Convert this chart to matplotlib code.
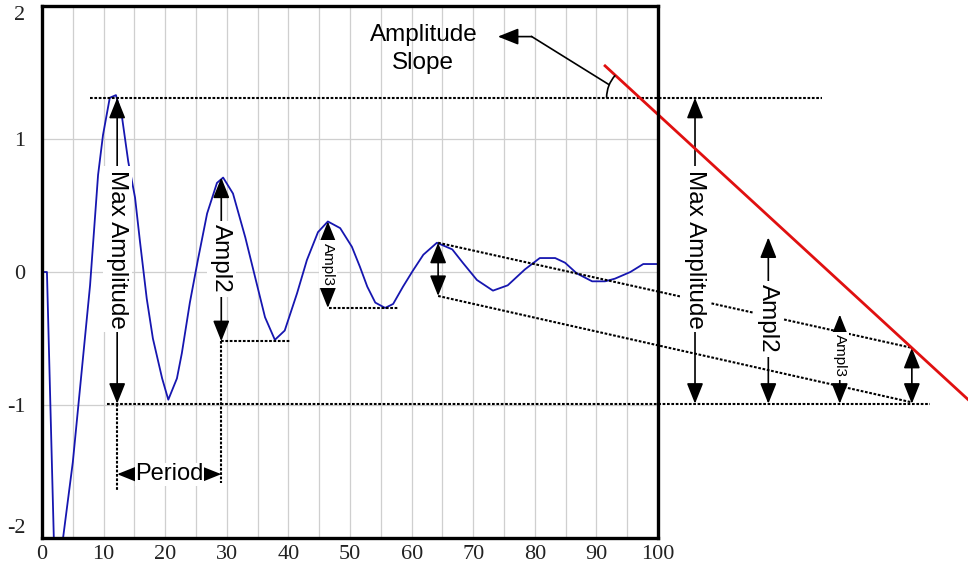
import numpy as np
import matplotlib.pyplot as plt
from matplotlib.patches import Arc

plt.rcParams['font.family'] = ['Liberation Sans', 'DejaVu Sans']
plt.rcParams['axes.unicode_minus'] = False

# --- damped oscillation ---
curve_x = [0, 0.8, 2.0, 3.0, 5.0, 7.8, 9.1, 9.9, 11.0, 12.0,
           13.0, 14.0, 15.1, 15.9, 17.0, 18.0, 19.5, 20.5, 21.9, 22.7,
           24.0, 25.3, 26.8, 28.4, 29.4, 31.0, 33.0, 34.6, 36.2, 37.8,
           39.4, 41.4, 43.0, 44.8, 46.4, 48.4, 50.3, 51.6, 52.8, 54.1,
           55.7, 57.0, 58.6, 60.2, 61.9, 64.1, 66.6, 68.3, 70.6, 73.2,
           75.6, 78.4, 80.8, 83.3, 84.9, 86.8, 89.3, 91.4, 93.0, 95.5,
           97.6, 100]
curve_y = [0, 0, -2.15, -2.15, -1.43, -0.1, 0.73, 1.03, 1.31, 1.33,
           1.16, 0.83, 0.56, 0.23, -0.2, -0.5, -0.8, -0.96, -0.8, -0.61,
           -0.23, 0.09, 0.44, 0.67, 0.71, 0.59, 0.26, -0.04, -0.34, -0.51,
           -0.44, -0.16, 0.09, 0.30, 0.38, 0.33, 0.19, 0.04, -0.11, -0.23,
           -0.27, -0.24, -0.11, 0.01, 0.13, 0.22, 0.17, 0.07, -0.06, -0.14,
           -0.10, 0.02, 0.105, 0.105, 0.07, -0.01, -0.07, -0.07, -0.05, 0.0,
           0.06, 0.06]

x_ticks = [0, 10, 20, 30, 40, 50, 60, 70, 80, 90, 100]
y_ticks = [-2, -1, 0, 1, 2]

# dotted guide lines (x0, x1, y0, y1)
guide_x0 = [7.8, 10.6, 12.2, 29.1, 29.1, 46.6, 64.3, 64.3]
guide_x1 = [126.6, 144.2, 12.2, 40.3, 29.1, 57.8, 141.2, 141.2]
guide_y0 = [1.31, -0.99, -0.99, -0.52, -0.52, -0.27, 0.22, -0.18]
guide_y1 = [1.31, -0.99, -1.65, -0.52, -1.59, -0.27, -0.57, -0.98]

# vertical dimension arrows
dim_x = [12.2, 29.1, 46.4, 64.3, 106.0, 117.9, 129.5, 141.2]
dim_top = [1.31, 0.71, 0.38, 0.22, 1.31, 0.26, -0.32, -0.57]
dim_bottom = [-0.99, -0.52, -0.27, -0.18, -0.99, -0.99, -0.99, -0.99]
dim_labels = ['Max Amplitude', 'Ampl2', 'Ampl3', '', 'Max Amplitude', 'Ampl2', 'Ampl3', '']
dim_label_y = [0.17, 0.10, 0.06, 0, 0.17, -0.35, -0.63, 0]
dim_label_size = [17.5, 17.5, 11, 0, 17.5, 17.5, 11, 0]

# period arrow
period_x = [12.2, 29.1]
period_y = -1.52

# amplitude slope
slope_x = [91.4, 152.0]
slope_y = [1.55, -1.03]
leader_x = [92.0, 79.5, 74.0]
leader_y = [1.41, 1.77, 1.77]
angle_center = (97.0, 1.31)

fig = plt.figure(figsize=(9.68, 5.72), dpi=100)
ax = fig.add_axes([0.0434, 0.0594, 0.6364, 0.9301])

ax.plot(curve_x, curve_y, color='#1616b0', lw=1.3, zorder=3, solid_joinstyle='round')

ax.set_xlim(0, 100)
ax.set_ylim(-2, 2)
ax.set_xticks(x_ticks)
ax.set_xticks(range(5, 100, 10), minor=True)
ax.set_yticks(y_ticks)
ax.set_axisbelow(True)
ax.grid(True, which='both', axis='x', color='#cfcfcf', lw=0.9)
ax.grid(True, which='major', axis='y', color='#cfcfcf', lw=0.9)
ax.tick_params(which='both', length=0, labelsize=16, colors='#222222')
ax.tick_params(axis='x', pad=5)
ax.tick_params(axis='y', pad=12)
for lbl in ax.get_xticklabels() + ax.get_yticklabels():
    lbl.set_fontfamily('Liberation Serif')
ylbls = ax.get_yticklabels()
ylbls[0].set_va('bottom')
ylbls[-1].set_va('top')
for sp in ax.spines.values():
    sp.set_linewidth(2.4)
    sp.set_color('black')
    sp.set_zorder(8)

dots = dict(color='black', lw=1.5, linestyle=(0, (1.3, 0.8)), clip_on=False, zorder=4)
for x0, x1, y0, y1 in zip(guide_x0, guide_x1, guide_y0, guide_y1):
    ax.plot([x0, x1], [y0, y1], **dots)

arrow = dict(arrowstyle='<|-|>,head_length=0.9,head_width=0.36', mutation_scale=14,
             lw=1.2, color='black', shrinkA=0, shrinkB=0)
box = dict(boxstyle='square,pad=0.15', fc='white', ec='none')

for x, yt, yb, lab, ly, fs in zip(dim_x, dim_top, dim_bottom, dim_labels, dim_label_y, dim_label_size):
    ax.annotate('', xy=(x, yt), xytext=(x, yb), arrowprops=arrow,
                annotation_clip=False, zorder=5)
    if lab:
        ax.text(x, ly, lab, rotation=270, ha='center', va='center', fontsize=fs,
                bbox=box, zorder=6, clip_on=False)

ax.annotate('', xy=(period_x[0], period_y), xytext=(period_x[1], period_y),
            arrowprops=arrow, zorder=5)
ax.text(sum(period_x) / 2, period_y, 'Period', ha='center', va='center',
        fontsize=17, bbox=dict(boxstyle='square,pad=0.02', fc='white', ec='none'), zorder=6)

# amplitude slope line, angle mark and callout
ax.plot(slope_x, slope_y, color='#e01010', lw=2.0, clip_on=False, zorder=5)

# arc of ~33 px radius; Arc wants angles in data space, so convert the screen angles
arc_w, arc_h = 10.7, 0.50
def data_angle(deg):
    t = np.deg2rad(deg)
    return np.rad2deg(np.arctan2(arc_h * np.sin(t), arc_w * np.cos(t)))
ax.add_patch(Arc(angle_center, arc_w, arc_h, theta1=data_angle(137.5), theta2=180,
                 color='black', lw=1.2, zorder=5))
ax.plot(leader_x[:2], leader_y[:2], color='black', lw=1.2, zorder=5)
ax.annotate('', xy=(leader_x[2], leader_y[2]), xytext=(leader_x[1], leader_y[1]),
            arrowprops=dict(arrowstyle='-|>,head_length=0.9,head_width=0.36',
                            mutation_scale=14, lw=1.2, color='black',
                            shrinkA=0, shrinkB=0), zorder=5)
ax.text(61.9, 1.68, 'Amplitude\nSlope', ha='center', va='center', fontsize=17.5,
        linespacing=1.35, zorder=6)

fig.savefig('out.png', dpi=100)
